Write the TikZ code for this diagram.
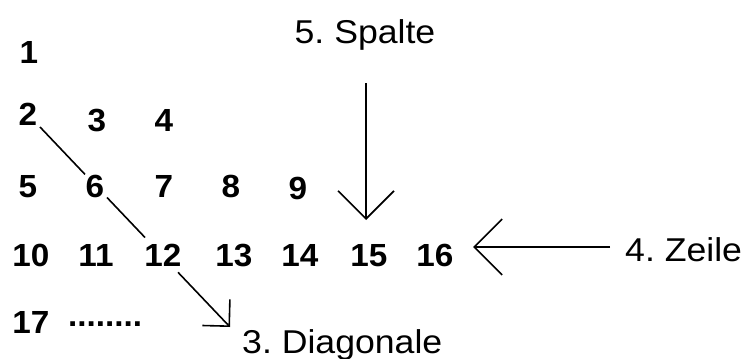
\documentclass[tikz,border=0pt]{standalone}
\usepackage{fontspec}
\setmainfont{Liberation Sans}
\usetikzlibrary{arrows.meta}
\begin{document}
\frenchspacing
\begin{tikzpicture}[x=1pt,y=-1pt,
  num/.style={font=\fontsize{32}{32}\selectfont\bfseries, inner sep=0pt, anchor=base, xscale=1.04},
  lbl/.style={font=\fontsize{33}{33}\selectfont, inner sep=0pt, xscale=1.08},
  ln/.style={line width=1.6pt},
  bigarr/.style={ln, -{Straight Barb[length=28pt,width=56pt]}},
  diagarr/.style={ln, -{Straight Barb[length=19pt,width=38pt]}}]
\useasboundingbox (0,0) rectangle (745,359);
% numbers
\node[num] (n1) at (29,63) {1};
\node[num] (n2) at (28,125) {2};
\node[num] (n3) at (97,131) {3};
\node[num] (n4) at (164,131) {4};
\node[num] (n5) at (28,197) {5};
\node[num] (n6) at (95,197) {6};
\node[num] (n7) at (164,197) {7};
\node[num] (n8) at (231,197) {8};
\node[num] (n9) at (298,199) {9};
\node[num] (n10) at (31,266) {10};
\node[num] (n11) at (96,266) {11};
\node[num] (n12) at (163,266) {12};
\node[num] (n13) at (234,266) {13};
\node[num] (n14) at (300,266) {14};
\node[num] (n15) at (369,266) {15};
\node[num] (n16) at (435,266) {16};
\node[num] (n17) at (31,333) {17};
\node[num, anchor=base west] (dots) at (68,326) {........};
% labels
\node[lbl, anchor=base] (sp) at (365,43) {5. Spalte};
\node[lbl, anchor=base west] (ze) at (625,261) {4. Zeile};
\node[lbl, anchor=base west] (di) at (242,353) {3. Diagonale};
% diagonal
\coordinate (dA) at (40,127);
\coordinate (dB) at (85,174.4);
\coordinate (dC) at (107,197.5);
\coordinate (dD) at (145,237.5);
\coordinate (dE) at (178,272.3);
\coordinate (dT) at (230,327);
\draw[ln] (dA) -- (dB);
\draw[ln] (dC) -- (dD);
\draw[diagarr] (dE) -- (dT);
% column arrow
\coordinate (vTop) at (366,83);
\coordinate (vTip) at (366,220);
\draw[bigarr] (vTop) -- (vTip);
% row arrow
\coordinate (hStart) at (610,247);
\coordinate (hTip) at (473,247);
\draw[bigarr] (hStart) -- (hTip);
\end{tikzpicture}
\end{document}
